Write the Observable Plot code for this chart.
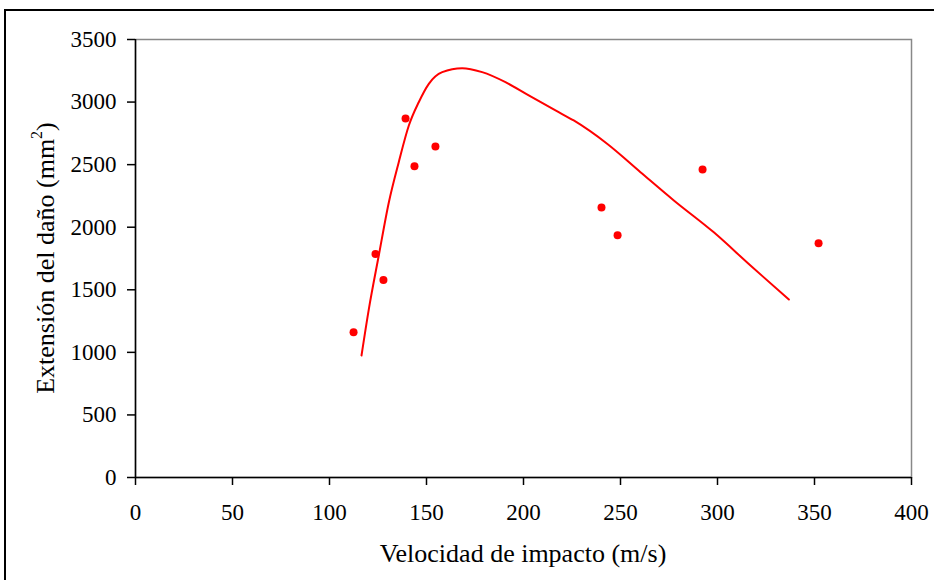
<!DOCTYPE html>
<html>
<head>
<meta charset="utf-8">
<script src="https://cdn.jsdelivr.net/npm/d3@7"></script>
<script src="https://cdn.jsdelivr.net/npm/@observablehq/plot@0.6"></script>
<style>
  html, body { margin: 0; padding: 0; background: #fff; overflow: hidden; }
  #wrap { position: relative; width: 934px; height: 580px; }
  #border { position: absolute; left: 4px; top: 9px; width: 1200px; height: 1200px;
            border-left: 2px solid #000; border-top: 2px solid #000; box-sizing: border-box; pointer-events: none; }
  #chart { position: absolute; left: 0; top: 0; }
  #chart svg, #chart svg text { font-family: "Liberation Serif", "Times New Roman", serif !important; }
</style>
</head>
<body>
<div id="wrap"><div id="chart"></div><div id="border"></div></div>
<script>
// Measured points: impact velocity (m/s) and damage extent (mm^2)
const pointVelocity = [112.4, 123.7, 127.8, 139.2, 143.8, 154.6, 240.2, 248.5, 292.3, 352.1];
const pointDamage   = [1160, 1785, 1578, 2868, 2487, 2644, 2158, 1935, 2461, 1872];

// Fitted curve
const curveVelocity = [116.5, 120.3, 125.4, 130.6, 135.7, 140.9, 146.0, 151.2, 158.1, 168.4, 178.7, 190.7, 202.7, 216.5, 225.9, 243.1, 260.3, 277.5, 298.1, 317.0, 336.8];
const curveDamage   = [975, 1348, 1774, 2200, 2520, 2813, 2999, 3146, 3239, 3271, 3239, 3159, 3053, 2933, 2853, 2667, 2440, 2214, 1959, 1694, 1422];

const xTicks = [0, 50, 100, 150, 200, 250, 300, 350, 400];
const yTicks = [0, 500, 1000, 1500, 2000, 2500, 3000, 3500];
const xLabel = "Velocidad de impacto (m/s)";
const yLabelMain = "Extensión del daño (mm";
const yLabelSup = "2";
const yLabelEnd = ")";

const points = pointVelocity.map((v, i) => ({v, d: pointDamage[i]}));
const curve = curveVelocity.map((v, i) => ({v, d: curveDamage[i]}));

const W = 934, H = 580;
const mL = 135, mR = 23, mT = 39, mB = 103;
const FONT = "Liberation Serif, Times New Roman, serif";

const chart = Plot.plot({
  width: W, height: H,
  marginLeft: mL, marginRight: mR, marginTop: mT, marginBottom: mB,
  style: { fontFamily: FONT, fontSize: "23px", color: "#000", background: "transparent", overflow: "visible" },
  x: { domain: [0, 400] },
  y: { domain: [0, 3500] },
  marks: [
    Plot.frame({ stroke: "#888", strokeWidth: 1.5 }),
    Plot.axisX({ ticks: xTicks, tickSize: 8, tickPadding: 18, label: null, tickFormat: d => String(d), strokeWidth: 1.5 }),
    Plot.axisY({ ticks: yTicks, tickSize: 8, tickPadding: 11, label: null, tickFormat: d => String(d), strokeWidth: 1.5 }),
    Plot.ruleX([0], { stroke: "#000", strokeWidth: 1.5 }),
    Plot.ruleY([0], { stroke: "#000", strokeWidth: 1.5 }),
    Plot.line(curve, { x: "v", y: "d", stroke: "#ff0000", strokeWidth: 2, curve: "monotone-x" }),
    Plot.dot(points, { x: "v", y: "d", r: 4, fill: "#ff0000", stroke: "none" })
  ]
});
document.getElementById("chart").appendChild(chart);

const svg = d3.select(chart);
svg.selectAll("text").attr("font-family", FONT);

svg.append("text")
  .attr("x", mL + (W - mL - mR) / 2)
  .attr("y", 562)
  .attr("text-anchor", "middle")
  .attr("font-family", FONT)
  .attr("font-size", 26)
  .attr("fill", "#000")
  .text(xLabel);

const yl = svg.append("text")
  .attr("transform", `translate(54, ${mT + (H - mT - mB) / 2}) rotate(-90)`)
  .attr("text-anchor", "middle")
  .attr("font-family", FONT)
  .attr("font-size", 26)
  .attr("fill", "#000");
yl.append("tspan").text(yLabelMain);
yl.append("tspan").attr("font-size", 16).attr("dy", "-0.75em").text(yLabelSup);
yl.append("tspan").attr("dy", "0.46em").text(yLabelEnd);
</script>
</body>
</html>
